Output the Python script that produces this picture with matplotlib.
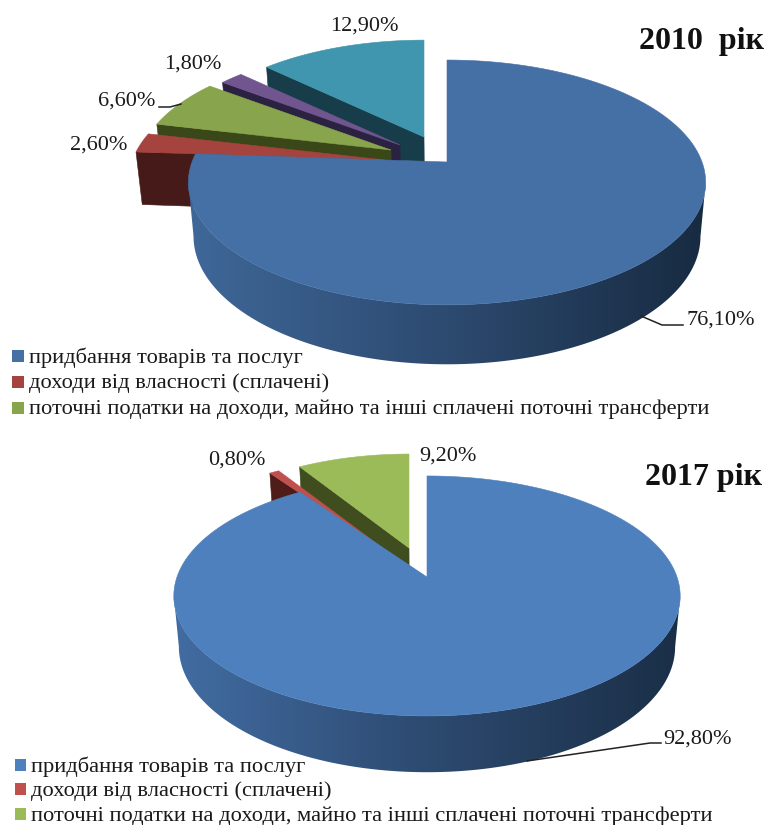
import numpy as np
import matplotlib
matplotlib.use('Agg')
import matplotlib.pyplot as plt
from matplotlib.patches import Polygon, Rectangle
from matplotlib.colors import LinearSegmentedColormap

plt.rcParams['font.family'] = ['Liberation Serif', 'DejaVu Serif']

legend_labels = ['придбання товарів та послуг',
                 'доходи від власності (сплачені)',
                 'поточні податки на доходи, майно та інші сплачені поточні трансферти']

title_2010 = '2010  рік'
values_2010 = [76.1, 2.6, 6.6, 1.8, 12.9]
title_2017 = '2017 рік'
values_2017 = [92.8, 0.8, 9.2]

# kolory: gora, sciana
top_2010 = ['#4570A6', '#A5433F', '#88A44C', '#70558F', '#3F96AE']
face_2010 = ['#1b2f47', '#451a18', '#3a4718', '#2b2140', '#183d4a']
top_2017 = ['#4D80BD', '#C0504D', '#9BBB59']
face_2017 = ['#1b2f47', '#4f1c1a', '#3f4d1f']

# polozenie wycinkow w pikselach
apex_2010 = [(447, 162), (385, 160), (391, 150), (400, 145), (424, 137)]
scale_2010 = [1, .99, .98, .96, .95]
apex_2017 = [(427, 577), (388, 552), (409, 548)]
scale_2017 = [1, .93, .93]

labels_2010 = [(721, 320), (99, 145), (127, 101), (193, 64), (364, 26)]
labels_2017 = [(697, 739), (237, 460), (448, 456)]

z = [2]


def next_z():
    z[0] += 1
    return z[0]


def bottom(p, cx, d0, d_slope, y0):
    return (p[0] + (cx - p[0]) * .02, p[1] + d0 + d_slope * (p[1] - y0))


def pie3d(ax, values, tops, faces, apexes, scales, A, B, k, d0, d_slope, side_cols):
    vals = np.array(values, dtype=float)
    edges = np.concatenate([[0], np.cumsum(vals / vals.sum())]) * 2 * np.pi
    cx = apexes[0][0]
    y0 = apexes[0][1]
    x0, x1 = cx - A * 1.03, cx + A * 1.03

    def proj(theta, ap, s):
        u, v = np.sin(theta), -np.cos(theta)
        w = 1 - k * v
        return (ap[0] + s * A * u / w, ap[1] + s * B * v / w)

    for i in reversed(range(len(vals))):
        th = np.linspace(edges[i], edges[i + 1], max(10, int(vals[i] * 8)))
        ap, s = apexes[i], scales[i]
        arc = [proj(t, ap, s) for t in th]
        # sciana boczna od strony srodka
        if i > 0:
            e = arc[0]
            ax.add_patch(Polygon([ap, e, bottom(e, cx, d0, d_slope, y0), bottom(ap, cx, d0, d_slope, y0)],
                                 closed=True, fc=faces[i], ec=faces[i], lw=.4, zorder=next_z()))
            front = [arc[j] for j in range(len(th)) if -np.cos(th[j]) > -.05]
        else:
            # od skrajnego punktu z prawej do skrajnego z lewej
            xs = [p[0] for p in arc]
            front = arc[int(np.argmax(xs)):int(np.argmin(xs)) + 1]
        if len(front) > 1:
            wall = front + [bottom(p, cx, d0, d_slope, y0) for p in reversed(front)]
            if i == 0:
                # gradient na scianie duzego wycinka
                cmap = LinearSegmentedColormap.from_list('side', side_cols)
                grad = np.linspace(0, 1, 256).reshape(1, -1)
                ys = [p[1] for p in wall]
                im = ax.imshow(grad, cmap=cmap, aspect='auto', zorder=next_z(),
                               extent=(x0, x1, max(ys) + 2, min(ys) - 2))
                clip = Polygon(wall, closed=True, transform=ax.transData)
                im.set_clip_path(clip)
            else:
                ax.add_patch(Polygon(wall, closed=True, fc=faces[i], ec=faces[i], lw=.4, zorder=next_z()))
        ax.add_patch(Polygon([ap] + arc, closed=True, fc=tops[i], ec=tops[i], lw=.4, zorder=next_z()))


def fmt(v):
    return f'{v:.2f}%'.replace('.', ',')


fig = plt.figure(figsize=(7.64, 8.25), dpi=100)
ax = fig.add_axes([0, 0, 1, 1])
ax.axis('off')

side_2010 = ['#3f6899', '#2d4a70', '#172a40']
side_2017 = ['#426da3', '#2d4a70', '#1a2e46']
pie3d(ax, values_2010, top_2010, face_2010, apex_2010, scale_2010, 255, 119, .167, 53, .045, side_2010)
pie3d(ax, values_2017, top_2017, face_2017, apex_2017, scale_2017, 250, 117, .158, 50, .045, side_2017)
ax.set_xlim(0, 764)
ax.set_ylim(825, 0)

# linie odniesienia
ax.plot([641, 662, 683], [316, 325, 325], color='#222222', lw=1.1, zorder=50)
ax.plot([159, 170, 181], [107, 107, 104], color='#222222', lw=1.1, zorder=50)
ax.plot([527, 650, 661], [761, 743, 743], color='#222222', lw=1.1, zorder=50)

for v, p in zip(values_2010, labels_2010):
    ax.text(p[0], p[1], fmt(v), ha='center', va='center', fontsize=16, color='#1a1a1a', zorder=60)
for v, p in zip(values_2017, labels_2017):
    ax.text(p[0], p[1], fmt(v), ha='center', va='center', fontsize=16, color='#1a1a1a', zorder=60)

ax.text(764, 41, title_2010, ha='right', va='center', fontsize=23, fontweight='bold', color='#111111')
ax.text(762, 477, title_2017, ha='right', va='center', fontsize=23, fontweight='bold', color='#111111')

# legendy
for lab, col, y in zip(legend_labels, top_2010, [356, 382, 408]):
    ax.add_patch(Rectangle((12, y - 6), 12, 12, fc=col, ec='none'))
    ax.text(29, y + 1.5, lab, ha='left', va='center', fontsize=16.15, color='#1a1a1a')
for lab, col, y in zip(legend_labels, top_2017, [765, 789, 814]):
    ax.add_patch(Rectangle((15, y - 6), 11, 12, fc=col, ec='none'))
    ax.text(31, y + 2, lab, ha='left', va='center', fontsize=16.2, color='#1a1a1a')

fig.savefig('out.png', dpi=100)
